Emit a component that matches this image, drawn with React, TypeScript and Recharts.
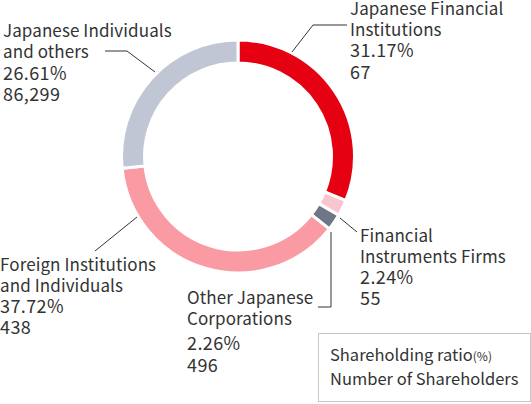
import { PieChart, Pie, Cell } from "recharts";

const categories = [
  "Japanese Financial Institutions",
  "Financial Instruments Firms",
  "Other Japanese Corporations",
  "Foreign Institutions and Individuals",
  "Japanese Individuals and others",
];
const ratios = [31.17, 2.24, 2.26, 37.72, 26.61];
const shareholders = ["67", "55", "496", "438", "86,299"];
const COLORS = ["#e50012", "#f9c6cd", "#6f7688", "#fa9ba4", "#c0c6d3"];

const data = categories.map((name, i) => ({ name, value: ratios[i] }));

// label layout: how the name wraps, where the text sits, and leader line
const LAYOUT = [
  { lines: ["Japanese Financial", "Institutions"], x: 350, y: [15, 36, 57, 79], leader: "347,25 313,25 292,52" },
  { lines: ["Financial", "Instruments Firms"], x: 360, y: [242, 263, 284, 305], leader: "340,218 357,232" },
  { lines: ["Other Japanese", "Corporations"], x: 187, y: [304, 325, 350, 372], leader: "331,232 331,307 318,307" },
  { lines: ["Foreign Institutions", "and Individuals"], x: 0, y: [271, 292, 313, 334], leader: "95,251 137,217" },
  { lines: ["Japanese Individuals", "and others"], x: 3, y: [37, 58, 80, 101], leader: "105,51 127,51 155,72" },
];

const FONT = '"Noto Sans CJK JP", "Noto Sans", sans-serif';

function renderLabel(props: any) {
  const i = props.index;
  const l = LAYOUT[i];
  const rows = [...l.lines, `${ratios[i].toFixed(2)}%`, shareholders[i]];
  return (
    <g>
      <polyline points={l.leader} fill="none" stroke="#333" strokeWidth={1} />
      {rows.map((t, k) => (
        <text
          key={k}
          x={l.x}
          y={l.y[k]}
          fill="#333"
          fontSize={k >= 2 ? 18 : 17}
          fontFamily={FONT}
          letterSpacing={k >= 2 ? 0.4 : 0.1}
        >
          {t}
        </text>
      ))}
    </g>
  );
}

export default function App() {
  return (
    <div style={{ position: "absolute", left: 0, top: 0, width: 531, height: 404, background: "#fff" }}>
      <PieChart width={531} height={404} margin={{ top: 0, right: 0, bottom: 0, left: 0 }}>
        <Pie
          data={data}
          dataKey="value"
          cx={238}
          cy={156.5}
          innerRadius={93.5}
          outerRadius={116.5}
          startAngle={90}
          endAngle={-270}
          stroke="#fff"
          strokeWidth={3}
          label={renderLabel}
          labelLine={false}
          isAnimationActive={false}
        >
          {data.map((d, i) => (
            <Cell key={d.name} fill={COLORS[i]} />
          ))}
        </Pie>
      </PieChart>
      <div
        style={{
          position: "absolute",
          left: 318,
          top: 333,
          width: 213,
          height: 69,
          border: "1px solid #c8c8c8",
          boxSizing: "border-box",
          fontFamily: FONT,
          fontSize: 16.5,
          color: "#333",
          lineHeight: "22px",
          paddingTop: 9,
          paddingLeft: 11,
          whiteSpace: "nowrap",
        }}
      >
        <div>
          Shareholding ratio<span style={{ fontSize: 12 }}>(%)</span>
        </div>
        <div>Number of Shareholders</div>
      </div>
    </div>
  );
}
